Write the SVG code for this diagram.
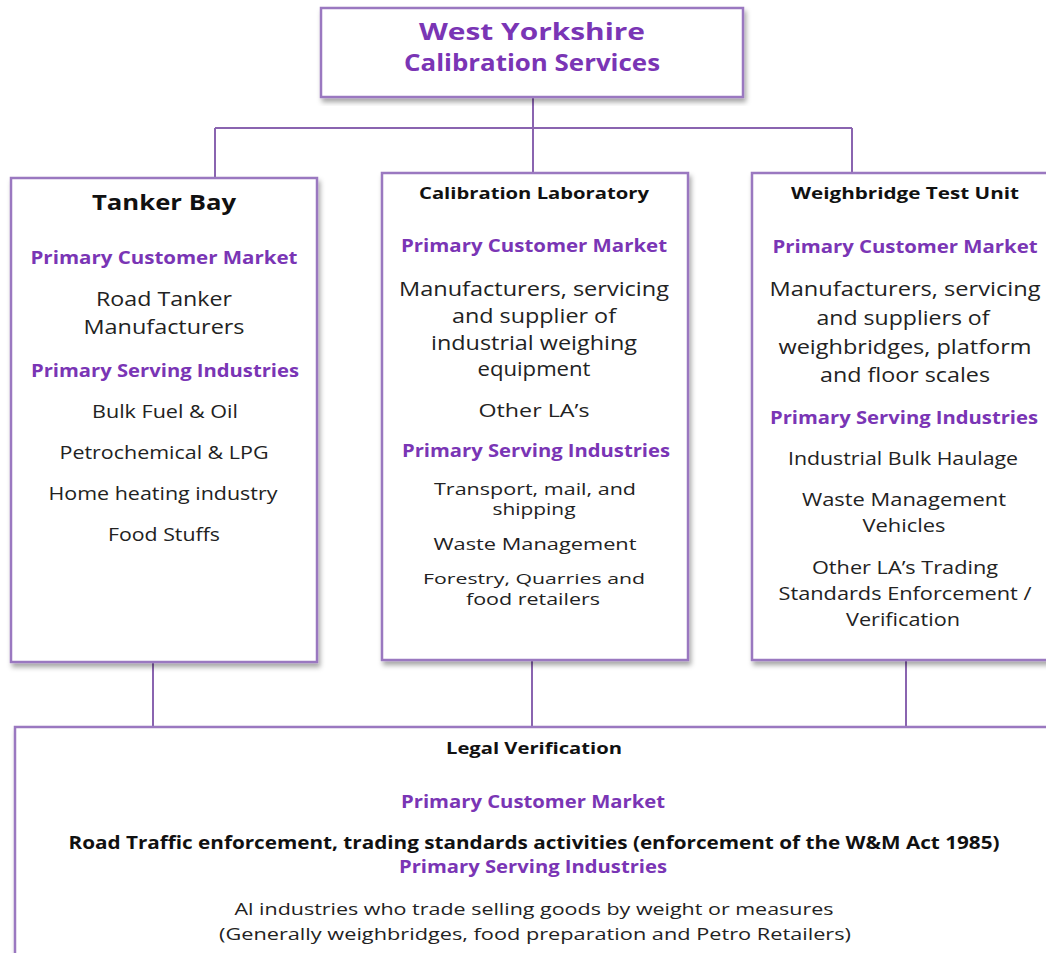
<svg xmlns="http://www.w3.org/2000/svg" width="1046" height="953" viewBox="0 0 1046 953">
<defs>
<filter id="sh" x="-5%" y="-5%" width="115%" height="115%">
<feDropShadow dx="2" dy="4" stdDeviation="2.5" flood-color="#000" flood-opacity="0.35"/>
</filter>
<style>
.box{fill:#fff;stroke:#9a78c0;stroke-width:2.5;filter:url(#sh)}
.con{fill:none;stroke:#8a64b0;stroke-width:2}
text{font-family:"Open Sans","Noto Sans",sans-serif;text-anchor:middle}
.h{font-weight:bold;fill:#7a35b5}
.t{font-weight:bold;fill:#111}
.b{fill:#222}
</style>
</defs>
<rect width="1046" height="953" fill="#fff"/>
<g id="connectors">
<path class="con" d="M533 97V128M215 128H852M215 128V178M533 128V173M852 128V173"/>
<path class="con" d="M153 662V727M532 660V727M906 660V727"/>
</g>
<g id="top">
<rect class="box" x="321" y="8" width="422" height="89"/>
<text class="h" x="532" y="40" font-size="24" textLength="226" lengthAdjust="spacingAndGlyphs">West Yorkshire</text>
<text class="h" x="532" y="71" font-size="24" textLength="256" lengthAdjust="spacingAndGlyphs">Calibration Services</text>
</g>
<g id="tanker">
<rect class="box" x="11" y="178" width="306" height="484"/>
<text class="t" x="164" y="210" font-size="22" textLength="144" lengthAdjust="spacingAndGlyphs">Tanker Bay</text>
<text class="h" x="164" y="264" font-size="17.5" textLength="267" lengthAdjust="spacingAndGlyphs">Primary Customer Market</text>
<text class="b" x="164" y="306" font-size="19.5" textLength="136" lengthAdjust="spacingAndGlyphs">Road Tanker</text>
<text class="b" x="164" y="334" font-size="19.5" textLength="161" lengthAdjust="spacingAndGlyphs">Manufacturers</text>
<text class="h" x="165" y="377" font-size="17.5" textLength="268" lengthAdjust="spacingAndGlyphs">Primary Serving Industries</text>
<text class="b" x="165" y="418" font-size="17.5" textLength="146" lengthAdjust="spacingAndGlyphs">Bulk Fuel &amp; Oil</text>
<text class="b" x="164" y="459" font-size="17.5" textLength="209" lengthAdjust="spacingAndGlyphs">Petrochemical &amp; LPG</text>
<text class="b" x="163" y="500" font-size="17.5" textLength="229" lengthAdjust="spacingAndGlyphs">Home heating industry</text>
<text class="b" x="164" y="541" font-size="17.5" textLength="112" lengthAdjust="spacingAndGlyphs">Food Stuffs</text>
</g>
<g id="lab">
<rect class="box" x="382" y="173" width="306" height="487"/>
<text class="t" x="534" y="199" font-size="16.5" textLength="230" lengthAdjust="spacingAndGlyphs">Calibration Laboratory</text>
<text class="h" x="534" y="252" font-size="17.5" textLength="266" lengthAdjust="spacingAndGlyphs">Primary Customer Market</text>
<text class="b" x="534" y="296" font-size="19.5" textLength="270" lengthAdjust="spacingAndGlyphs">Manufacturers, servicing</text>
<text class="b" x="534" y="323" font-size="19.5" textLength="164" lengthAdjust="spacingAndGlyphs">and supplier of</text>
<text class="b" x="534" y="350" font-size="19.5" textLength="206" lengthAdjust="spacingAndGlyphs">industrial weighing</text>
<text class="b" x="534" y="376" font-size="19.5" textLength="113" lengthAdjust="spacingAndGlyphs">equipment</text>
<text class="b" x="534" y="417" font-size="17.5" textLength="111" lengthAdjust="spacingAndGlyphs">Other LA’s</text>
<text class="h" x="536" y="457" font-size="17.5" textLength="268" lengthAdjust="spacingAndGlyphs">Primary Serving Industries</text>
<text class="b" x="535" y="495" font-size="15.5" textLength="202" lengthAdjust="spacingAndGlyphs">Transport, mail, and</text>
<text class="b" x="534" y="515" font-size="15.5" textLength="83" lengthAdjust="spacingAndGlyphs">shipping</text>
<text class="b" x="535" y="550" font-size="17" textLength="203" lengthAdjust="spacingAndGlyphs">Waste Management</text>
<text class="b" x="534" y="584" font-size="15" textLength="222" lengthAdjust="spacingAndGlyphs">Forestry, Quarries and</text>
<text class="b" x="533" y="605" font-size="15.5" textLength="134" lengthAdjust="spacingAndGlyphs">food retailers</text>
</g>
<g id="weighbridge">
<rect class="box" x="752" y="173" width="310" height="487"/>
<text class="t" x="905" y="199" font-size="16.5" textLength="228" lengthAdjust="spacingAndGlyphs">Weighbridge Test Unit</text>
<text class="h" x="905" y="253" font-size="17.5" textLength="265" lengthAdjust="spacingAndGlyphs">Primary Customer Market</text>
<text class="b" x="905" y="296" font-size="19.5" textLength="271" lengthAdjust="spacingAndGlyphs">Manufacturers, servicing</text>
<text class="b" x="903" y="325" font-size="19.5" textLength="173" lengthAdjust="spacingAndGlyphs">and suppliers of</text>
<text class="b" x="905" y="354" font-size="19.5" textLength="253" lengthAdjust="spacingAndGlyphs">weighbridges, platform</text>
<text class="b" x="905" y="382" font-size="19.5" textLength="170" lengthAdjust="spacingAndGlyphs">and floor scales</text>
<text class="h" x="904" y="424" font-size="17.5" textLength="268" lengthAdjust="spacingAndGlyphs">Primary Serving Industries</text>
<text class="b" x="903" y="465" font-size="17.5" textLength="230" lengthAdjust="spacingAndGlyphs">Industrial Bulk Haulage</text>
<text class="b" x="904" y="506" font-size="17.5" textLength="204" lengthAdjust="spacingAndGlyphs">Waste Management</text>
<text class="b" x="904" y="532" font-size="17.5" textLength="83" lengthAdjust="spacingAndGlyphs">Vehicles</text>
<text class="b" x="905" y="574" font-size="17.5" textLength="186" lengthAdjust="spacingAndGlyphs">Other LA’s Trading</text>
<text class="b" x="905" y="600" font-size="17.5" textLength="253" lengthAdjust="spacingAndGlyphs">Standards Enforcement /</text>
<text class="b" x="903" y="626" font-size="17.5" textLength="114" lengthAdjust="spacingAndGlyphs">Verification</text>
</g>
<g id="legal">
<rect class="box" x="15" y="727" width="1050" height="240"/>
<text class="t" x="534" y="754" font-size="16.5" textLength="176" lengthAdjust="spacingAndGlyphs">Legal Verification</text>
<text class="h" x="533" y="808" font-size="17" textLength="264" lengthAdjust="spacingAndGlyphs">Primary Customer Market</text>
<text class="t" x="534" y="849" font-size="17" textLength="931" lengthAdjust="spacingAndGlyphs">Road Traffic enforcement, trading standards activities (enforcement of the W&amp;M Act 1985)</text>
<text class="h" x="533" y="873" font-size="17" textLength="268" lengthAdjust="spacingAndGlyphs">Primary Serving Industries</text>
<text class="b" x="534" y="915" font-size="17" textLength="599" lengthAdjust="spacingAndGlyphs">Al industries who trade selling goods by weight or measures</text>
<text class="b" x="535" y="940" font-size="17" textLength="632" lengthAdjust="spacingAndGlyphs">(Generally weighbridges, food preparation and Petro Retailers)</text>
</g>
</svg>
